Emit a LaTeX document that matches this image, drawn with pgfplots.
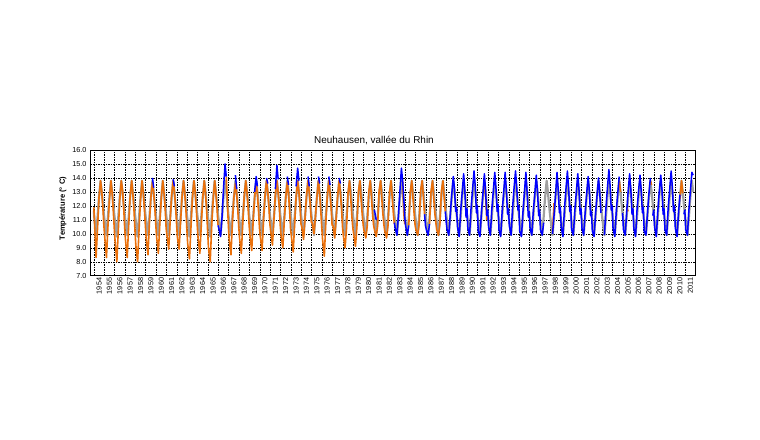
\documentclass[border=0pt]{standalone}
\usepackage{fontspec}
\setmainfont{Liberation Sans}
\usepackage{pgfplots}
\usepackage{pgfplotstable}
\pgfplotsset{compat=1.18}
\definecolor{orng}{RGB}{235,112,10}
\definecolor{blu}{RGB}{0,0,255}
\definecolor{gry}{RGB}{160,160,160}

% t = year, g = grey series, o = orange series, b = blue series
\pgfplotstableread{
t g o b
1954.00 11.6 11.9 nan
1954.22 9.9 8.3 nan
1954.36 11.2 10.4 nan
1954.50 12.6 12.6 nan
1954.65 13.8 13.8 nan
1954.77 13.0 13.0 nan
1954.88 12.1 11.8 nan
1954.97 11.4 10.6 nan
1955.05 10.9 9.8 nan
1955.22 9.9 8.3 nan
1955.36 11.2 10.5 nan
1955.50 12.6 12.4 nan
1955.65 13.8 13.8 nan
1955.77 13.0 12.9 nan
1955.88 12.1 11.6 nan
1955.97 11.4 10.4 nan
1956.05 10.9 9.5 nan
1956.22 9.8 8.0 nan
1956.36 11.2 10.2 nan
1956.50 12.6 12.5 nan
1956.65 13.8 13.8 nan
1956.77 13.0 13.1 nan
1956.88 12.1 11.9 nan
1956.97 11.4 10.5 nan
1957.05 10.9 9.6 nan
1957.22 9.9 8.3 nan
1957.36 11.2 10.6 nan
1957.50 12.6 12.7 nan
1957.65 13.8 13.8 nan
1957.77 13.0 12.8 nan
1957.88 12.1 11.6 nan
1957.97 11.4 10.2 nan
1958.05 10.9 9.2 nan
1958.22 9.8 8.0 nan
1958.36 11.2 10.3 nan
1958.50 12.6 12.4 nan
1958.65 13.8 13.8 nan
1958.77 13.0 12.9 nan
1958.88 12.1 11.7 nan
1958.97 11.4 10.6 nan
1959.05 10.9 9.7 nan
1959.22 9.9 8.5 nan
1959.36 11.2 10.8 nan
1959.50 12.6 12.6 nan
1959.65 13.8 13.7 14.0
1959.77 13.0 13.0 13.3
1959.88 12.1 11.9 nan
1959.97 11.4 10.7 nan
1960.05 10.9 9.8 nan
1960.22 9.9 8.6 nan
1960.36 11.2 10.7 nan
1960.50 12.6 12.5 nan
1960.65 13.8 13.8 nan
1960.77 13.0 12.9 nan
1960.88 12.1 11.8 nan
1960.97 11.4 10.4 nan
1961.05 10.9 9.9 nan
1961.22 9.9 8.9 nan
1961.36 11.2 10.9 nan
1961.50 12.6 12.7 nan
1961.65 13.8 13.8 13.9
1961.77 13.0 13.0 13.4
1961.88 12.1 12.0 nan
1961.97 11.4 10.8 nan
1962.05 10.9 9.8 nan
1962.22 9.9 8.9 nan
1962.36 11.2 10.8 nan
1962.50 12.6 12.6 nan
1962.65 13.8 13.8 nan
1962.77 13.0 12.9 nan
1962.88 12.1 11.7 nan
1962.97 11.4 10.3 nan
1963.05 10.9 9.3 nan
1963.22 9.8 8.2 nan
1963.36 11.2 10.4 nan
1963.50 12.6 12.5 nan
1963.65 13.8 13.8 nan
1963.77 13.0 13.0 nan
1963.88 12.1 11.8 nan
1963.97 11.4 10.6 nan
1964.05 10.9 9.7 nan
1964.22 9.9 8.6 nan
1964.36 11.2 10.6 nan
1964.50 12.6 12.6 nan
1964.65 13.8 13.8 nan
1964.77 13.0 12.8 nan
1964.88 12.1 11.6 nan
1964.97 11.4 10.2 nan
1965.05 10.9 9.0 nan
1965.22 9.8 8.0 nan
1965.36 11.2 10.5 nan
1965.50 12.6 12.4 nan
1965.65 13.8 13.8 nan
1965.77 13.0 12.9 nan
1965.88 12.1 11.8 nan
1965.97 11.4 10.6 10.6
1966.05 10.9 nan 10.4
1966.22 9.9 nan 9.8
1966.36 11.2 nan 11.2
1966.50 12.6 nan 13.2
1966.65 13.8 nan 15.0
1966.77 13.0 14.1 14.1
1966.88 12.1 12.2 nan
1966.97 11.4 10.6 nan
1967.05 10.9 9.6 nan
1967.22 9.9 8.5 nan
1967.36 11.2 10.8 nan
1967.50 12.6 12.6 nan
1967.65 13.8 13.6 14.2
1967.77 13.0 12.9 13.2
1967.88 12.1 11.7 nan
1967.97 11.4 10.5 nan
1968.05 10.9 9.7 nan
1968.22 9.9 8.6 nan
1968.36 11.2 10.8 nan
1968.50 12.6 12.7 nan
1968.65 13.8 13.8 nan
1968.77 13.0 12.9 nan
1968.88 12.1 11.8 nan
1968.97 11.4 10.6 nan
1969.05 10.9 9.9 nan
1969.22 9.9 8.8 nan
1969.36 11.2 10.9 nan
1969.50 12.6 12.6 13.0
1969.65 13.8 13.7 14.1
1969.77 13.0 12.8 13.4
1969.88 12.1 11.6 nan
1969.97 11.4 10.4 nan
1970.05 10.9 9.8 nan
1970.22 9.9 8.8 nan
1970.36 11.2 11.0 nan
1970.50 12.6 12.7 nan
1970.65 13.8 13.8 14.0
1970.77 13.0 13.0 13.6
1970.88 12.1 11.9 nan
1970.97 11.4 10.7 nan
1971.05 10.9 10.2 nan
1971.22 9.9 9.2 nan
1971.36 11.2 11.0 nan
1971.50 12.6 12.8 13.2
1971.65 13.8 13.8 14.9
1971.77 13.0 12.9 13.9
1971.88 12.1 11.9 nan
1971.97 11.4 10.6 nan
1972.05 10.9 9.9 nan
1972.22 9.9 9.0 nan
1972.36 11.2 10.9 nan
1972.50 12.6 12.6 nan
1972.65 13.8 13.7 14.1
1972.77 13.0 12.8 13.5
1972.88 12.1 11.6 nan
1972.97 11.4 10.3 nan
1973.05 10.9 9.8 nan
1973.22 9.9 8.7 nan
1973.36 11.2 10.7 nan
1973.50 12.6 12.6 13.4
1973.65 13.8 13.8 14.7
1973.77 13.0 13.0 13.8
1973.88 12.1 11.9 nan
1973.97 11.4 10.7 nan
1974.05 10.9 10.5 nan
1974.22 9.9 9.6 nan
1974.36 11.2 11.1 nan
1974.50 12.6 12.7 nan
1974.65 13.8 13.8 14.1
1974.77 13.0 12.9 13.4
1974.88 12.1 11.9 nan
1974.97 11.4 10.8 nan
1975.05 10.9 10.8 nan
1975.22 9.9 10.0 nan
1975.36 11.2 11.2 nan
1975.50 12.6 12.6 nan
1975.65 13.8 13.8 14.1
1975.77 13.0 12.8 13.6
1975.88 12.1 11.6 nan
1975.97 11.4 10.5 nan
1976.05 10.9 9.6 nan
1976.22 9.9 8.4 nan
1976.36 11.2 10.8 nan
1976.50 12.6 12.6 nan
1976.65 13.8 13.8 14.1
1976.77 13.0 12.9 13.5
1976.88 12.1 11.8 nan
1976.97 11.4 10.6 nan
1977.05 10.9 10.6 nan
1977.22 9.9 9.7 nan
1977.36 11.2 11.1 nan
1977.50 12.6 12.7 nan
1977.65 13.8 13.8 14.0
1977.77 13.0 12.9 13.6
1977.88 12.1 11.8 nan
1977.97 11.4 10.5 nan
1978.05 10.9 9.9 nan
1978.22 9.9 9.0 nan
1978.36 11.2 10.4 nan
1978.50 12.6 12.9 nan
1978.65 13.8 13.8 nan
1978.77 13.0 12.5 nan
1978.88 12.1 11.2 nan
1978.97 11.4 10.4 nan
1979.05 10.9 10.0 nan
1979.22 9.9 9.1 nan
1979.36 11.2 10.5 nan
1979.50 12.6 13.0 nan
1979.65 13.8 13.8 nan
1979.77 13.0 12.4 nan
1979.88 12.1 11.3 nan
1979.97 11.4 10.6 nan
1980.05 10.9 10.2 nan
1980.22 9.9 9.7 nan
1980.36 11.2 10.6 nan
1980.50 12.6 13.0 nan
1980.65 13.8 13.8 nan
1980.77 13.0 12.5 nan
1980.88 12.1 11.3 nan
1980.97 11.4 10.6 nan
1981.05 10.9 10.3 11.7
1981.22 9.9 9.8 11.0
1981.36 11.2 10.6 nan
1981.50 12.6 13.1 nan
1981.65 13.8 13.8 nan
1981.77 13.0 12.4 nan
1981.88 12.1 11.3 nan
1981.97 11.4 10.6 nan
1982.05 10.9 10.2 nan
1982.22 9.9 9.7 nan
1982.36 11.2 10.6 nan
1982.50 12.6 13.0 nan
1982.65 13.8 13.8 nan
1982.77 13.0 12.5 nan
1982.88 12.1 11.4 nan
1982.97 11.4 10.7 10.8
1983.05 10.9 nan 10.4
1983.22 9.9 nan 9.9
1983.36 11.2 nan 11.3
1983.50 12.6 nan 13.0
1983.65 13.8 nan 14.7
1983.77 13.0 13.8 13.8
1983.88 12.1 11.5 12.5
1983.97 11.4 10.7 11.2
1984.05 10.9 nan 10.6
1984.22 9.9 nan 9.9
1984.36 11.2 10.6 10.6
1984.50 12.6 13.0 nan
1984.65 13.8 13.8 nan
1984.77 13.0 12.5 nan
1984.88 12.1 11.4 nan
1984.97 11.4 10.6 nan
1985.05 10.9 10.3 nan
1985.22 9.9 9.9 nan
1985.36 11.2 10.7 nan
1985.50 12.6 13.1 nan
1985.65 13.8 13.8 nan
1985.77 13.0 12.6 nan
1985.88 12.1 11.4 11.4
1985.97 11.4 nan 10.6
1986.05 10.9 nan 10.3
1986.22 9.9 nan 9.9
1986.36 11.2 10.7 10.7
1986.50 12.6 13.0 nan
1986.65 13.8 13.8 nan
1986.77 13.0 12.5 nan
1986.88 12.1 11.4 nan
1986.97 11.4 10.8 nan
1987.05 10.9 10.3 nan
1987.22 9.9 9.9 nan
1987.36 11.2 10.7 nan
1987.50 12.6 13.0 nan
1987.65 13.8 13.8 nan
1987.77 13.0 12.6 nan
1987.88 12.1 11.6 11.6
1987.97 11.4 nan 10.8
1988.05 10.9 nan 10.3
1988.22 9.9 nan 9.9
1988.36 11.2 nan 11.4
1988.50 12.6 nan 12.8
1988.65 13.8 nan 14.1
1988.77 13.0 nan 13.2
1988.88 12.1 nan 11.6
1988.97 11.4 nan 11.9
1989.05 10.9 nan 10.5
1989.22 9.9 nan 9.8
1989.36 11.2 nan 11.6
1989.50 12.6 nan 12.9
1989.65 13.8 nan 14.3
1989.77 13.0 nan 13.0
1989.88 12.1 nan 11.2
1989.97 11.4 nan 11.8
1990.05 10.9 nan 10.4
1990.22 9.9 nan 9.9
1990.36 11.2 nan 11.8
1990.50 12.6 nan 13.1
1990.65 13.8 nan 14.5
1990.77 13.0 nan 13.4
1990.88 12.1 nan 11.5
1990.97 11.4 nan 12.0
1991.05 10.9 nan 10.2
1991.22 9.9 nan 9.8
1991.36 11.2 nan 11.5
1991.50 12.6 nan 12.8
1991.65 13.8 13.8 14.3
1991.77 13.0 12.6 13.0
1991.88 12.1 11.0 11.3
1991.97 11.4 nan 11.7
1992.05 10.9 nan 10.5
1992.22 9.9 nan 9.9
1992.36 11.2 nan 11.7
1992.50 12.6 nan 13.0
1992.65 13.8 nan 14.4
1992.77 13.0 nan 13.2
1992.88 12.1 nan 11.6
1992.97 11.4 nan 12.1
1993.05 10.9 nan 10.3
1993.22 9.9 nan 9.8
1993.36 11.2 nan 11.6
1993.50 12.6 nan 12.9
1993.65 13.8 nan 14.4
1993.77 13.0 nan 13.1
1993.88 12.1 nan 11.4
1993.97 11.4 nan 11.8
1994.05 10.9 nan 10.6
1994.22 9.9 nan 9.9
1994.36 11.2 nan 11.8
1994.50 12.6 nan 13.2
1994.65 13.8 nan 14.5
1994.77 13.0 nan 13.3
1994.88 12.1 nan 11.7
1994.97 11.4 nan 12.0
1995.05 10.9 nan 10.2
1995.22 9.9 nan 9.8
1995.36 11.2 nan 11.5
1995.50 12.6 nan 12.9
1995.65 13.8 nan 14.4
1995.77 13.0 nan 12.9
1995.88 12.1 nan 11.2
1995.97 11.4 nan 11.6
1996.05 10.9 nan 10.4
1996.22 9.9 nan 9.9
1996.36 11.2 nan 11.6
1996.50 12.6 nan 12.8
1996.65 13.8 nan 14.2
1996.77 13.0 nan 13.0
1996.88 12.1 nan 11.3
1996.97 11.4 nan 11.7
1997.05 10.9 nan 10.3
1997.22 9.9 nan 9.9
1997.36 11.2 nan 10.8
1997.50 12.6 nan nan
1997.65 13.8 nan nan
1997.77 13.0 nan nan
1997.88 12.1 nan nan
1997.97 11.4 nan nan
1998.05 10.9 nan nan
1998.22 9.9 10.1 10.0
1998.36 11.2 12.2 11.3
1998.50 12.6 nan 12.7
1998.65 13.8 nan 14.4
1998.77 13.0 nan 13.1
1998.88 12.1 nan 11.5
1998.97 11.4 nan 11.9
1999.05 10.9 nan 10.5
1999.22 9.9 nan 9.8
1999.36 11.2 nan 11.7
1999.50 12.6 nan 13.1
1999.65 13.8 nan 14.5
1999.77 13.0 nan 13.2
1999.88 12.1 nan 11.6
1999.97 11.4 nan 12.0
2000.05 10.9 nan 10.3
2000.22 9.9 nan 9.9
2000.36 11.2 nan 11.6
2000.50 12.6 nan 12.9
2000.65 13.8 nan 14.3
2000.77 13.0 nan 13.1
2000.88 12.1 nan 11.4
2000.97 11.4 nan 11.8
2001.05 10.9 nan 10.4
2001.22 9.9 nan 9.9
2001.36 11.2 nan 11.5
2001.50 12.6 nan 12.8
2001.65 13.8 nan 14.1
2001.77 13.0 nan 13.0
2001.88 12.1 nan 11.3
2001.97 11.4 nan 11.6
2002.05 10.9 nan 10.2
2002.22 9.9 nan 9.8
2002.36 11.2 nan 11.4
2002.50 12.6 nan 12.7
2002.65 13.8 nan 14.0
2002.77 13.0 nan 12.9
2002.88 12.1 nan 11.5
2002.97 11.4 nan nan
2003.05 10.9 nan nan
2003.22 9.9 nan 9.9
2003.36 11.2 nan 11.8
2003.50 12.6 nan 13.2
2003.65 13.8 nan 14.6
2003.77 13.0 nan 13.4
2003.88 12.1 nan 11.7
2003.97 11.4 nan 12.0
2004.05 10.9 nan 10.4
2004.22 9.9 nan 9.8
2004.36 11.2 nan 11.6
2004.50 12.6 nan 12.9
2004.65 13.8 13.8 14.1
2004.77 13.0 13.0 nan
2004.88 12.1 nan nan
2004.97 11.4 nan 11.5
2005.05 10.9 nan 10.3
2005.22 9.9 nan 9.9
2005.36 11.2 11.9 11.5
2005.50 12.6 11.6 13.0
2005.65 13.8 nan 14.3
2005.77 13.0 nan 13.1
2005.88 12.1 nan 11.4
2005.97 11.4 nan 11.8
2006.05 10.9 nan 10.4
2006.22 9.9 nan 9.8
2006.36 11.2 nan 11.7
2006.50 12.6 nan 13.0
2006.65 13.8 nan 14.2
2006.77 13.0 nan 13.0
2006.88 12.1 nan 11.5
2006.97 11.4 nan 11.9
2007.05 10.9 nan 10.2
2007.22 9.9 nan 9.9
2007.36 11.2 nan 11.4
2007.50 12.6 nan 12.8
2007.65 13.8 13.8 14.0
2007.77 13.0 13.5 nan
2007.88 12.1 nan 11.3
2007.97 11.4 nan 11.7
2008.05 10.9 nan 10.5
2008.22 9.9 nan 9.8
2008.36 11.2 nan 11.6
2008.50 12.6 nan 13.0
2008.65 13.8 nan 14.2
2008.77 13.0 nan 13.1
2008.88 12.1 nan 11.4
2008.97 11.4 nan 11.8
2009.05 10.9 nan 10.3
2009.22 9.9 nan 9.9
2009.36 11.2 nan 11.8
2009.50 12.6 nan 13.1
2009.65 13.8 nan 14.5
2009.77 13.0 nan 13.3
2009.88 12.1 nan 11.6
2009.97 11.4 nan 12.0
2010.05 10.9 nan 10.4
2010.22 9.9 nan 9.8
2010.36 11.2 nan 11.5
2010.50 12.6 12.5 12.8
2010.65 13.8 13.8 nan
2010.77 13.0 12.9 nan
2010.88 12.1 nan 11.4
2010.97 11.4 nan 11.7
2011.05 10.9 nan 10.3
2011.22 9.9 nan 9.9
2011.36 11.2 nan 11.7
2011.50 12.6 nan 13.0
2011.65 13.8 nan 14.4
2011.77 13.0 nan 14.2
}\temps

\begin{document}
\begin{tikzpicture}
\path[use as bounding box] (0,0) rectangle (760bp,440bp);
\begin{axis}[
  at={(90.7bp,164.3bp)}, anchor=south west,
  width=604.3bp, height=125.7bp, scale only axis,
  xmin=1953.7, xmax=2011.95, ymin=7, ymax=16,
  ytick={7,8,...,16},
  xtick={1954.5,1955.5,...,2011.5},
  minor xtick={1954,1955,...,2011},
  xticklabel={\pgfmathtruncatemacro\yr{\tick}\yr},
  major tick length=0pt, minor tick length=0pt,
  ymajorgrids, xminorgrids, xmajorgrids=false,
  grid style={black, line width=0.45bp, dash pattern=on 1.5bp off 1bp},
  minor grid style={black, line width=0.45bp, dash pattern=on 1.5bp off 1bp},
  axis line style={black, line width=0.8bp},
  unbounded coords=jump, no marks,
  tick label style={font=\fontsize{7.3}{8}\selectfont},
  /pgf/number format/assume math mode=true,
  yticklabel style={/pgf/number format/.cd, fixed, fixed zerofill, precision=1, /tikz/.cd, inner sep=0pt, xshift=-4bp},
  xticklabel style={rotate=90, anchor=east, inner sep=2bp},
]
\addplot[gry, line width=2.2bp, line join=round] table[x=t, y=g] {\temps};
\addplot[orng, line width=1.6bp, line join=round] table[x=t, y=o] {\temps};
\addplot[blu, line width=1.5bp, line join=round] table[x=t, y=b] {\temps};
\end{axis}
\node[font=\fontsize{10}{12}\selectfont] at (374bp,300bp) {Neuhausen, vallée du Rhin};
\node[font=\bfseries\fontsize{7.6}{9}\selectfont, rotate=90] at (63bp,231.5bp) {Température (° C)};
\end{tikzpicture}
\end{document}
